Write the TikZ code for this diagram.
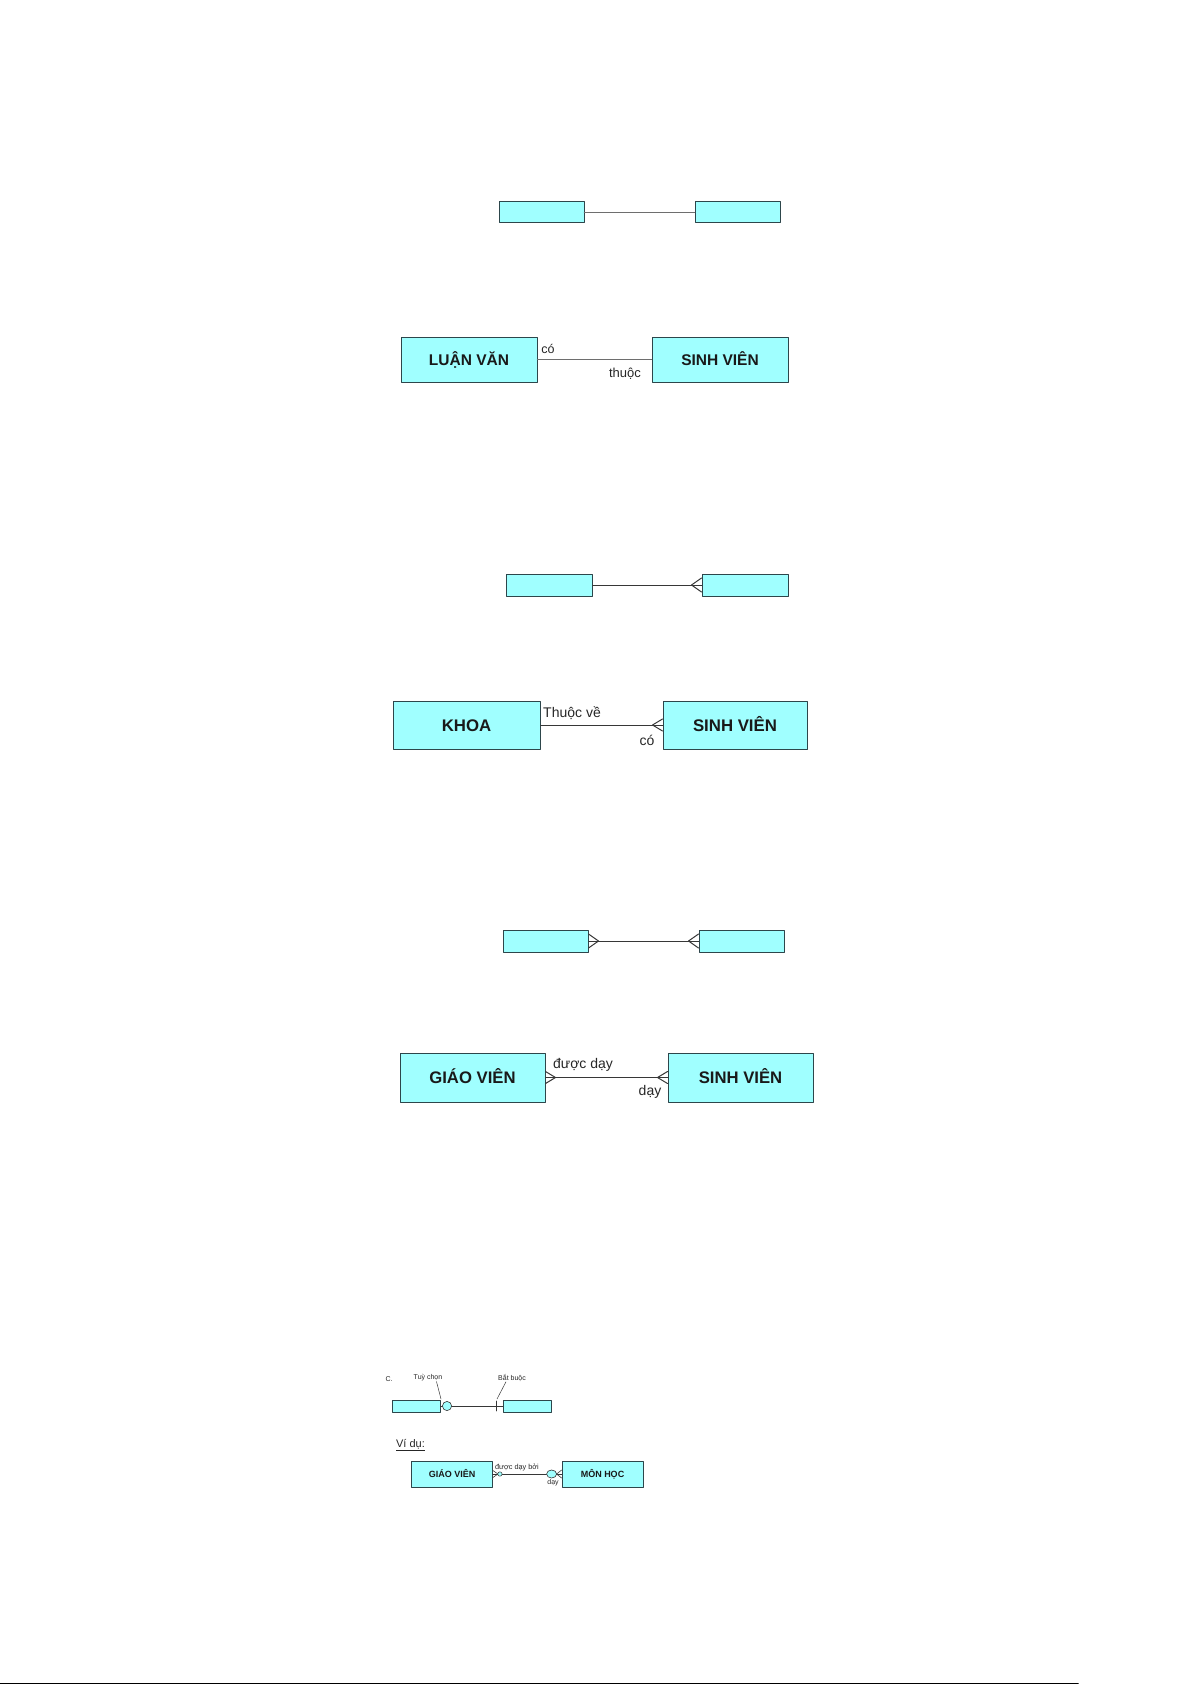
\documentclass[tikz,border=0pt]{standalone}
\usepackage{fontspec}
\setmainfont{Liberation Sans}
\definecolor{entfill}{RGB}{160,255,255}
\definecolor{entline}{RGB}{45,70,75}
\definecolor{relgrey}{RGB}{110,110,110}
\definecolor{reldark}{RGB}{55,55,55}
\newcommand\fsz[1]{\fontsize{#1}{#1}\selectfont}
\begin{document}
\begin{tikzpicture}[x=1pt,y=-1pt, line join=round, line cap=round,
	ent/.style={draw=entline, fill=entfill, line width=1pt, inner sep=0pt, text=black!90, font=\bfseries, text depth=0pt},
	rel/.style={draw=reldark, line width=1pt},
	lbl/.style={inner sep=0pt, text=black!85}]
	\useasboundingbox (0,0) rectangle (1192,1685);
	% 1 - 1
	\node[ent, minimum width=85pt, minimum height=21pt] (e1a) at (541.5,212.5) {};
	\node[ent, minimum width=85pt, minimum height=21pt] (e1b) at (737.5,212.5) {};
	\draw[rel, draw=relgrey, line width=1.6pt] (e1a.east)--(e1b.west);
	\node[ent, minimum width=136pt, minimum height=45pt, text height=11.2pt, font=\fsz{15.5}\bfseries] (lv) at (469,359.5) {LUẬN VĂN};
	\node[ent, minimum width=136pt, minimum height=45pt, text height=11.2pt, font=\fsz{15.5}\bfseries] (sv2) at (720,359.5) {SINH VIÊN};
	\draw[rel, draw=relgrey, line width=1.4pt] (lv.east)--(sv2.west);
	\node[lbl, font=\fsz{12.5}] (co2) at (548,349) {có};
	\node[lbl, font=\fsz{13}] (thuoc2) at (625,374) {thuộc};
	% 1 - n
	\node[ent, minimum width=86pt, minimum height=22pt] (e3a) at (549,585) {};
	\node[ent, minimum width=86pt, minimum height=22pt] (e3b) at (745,585) {};
	\draw[rel] (e3a.east)--(e3b.west);
	\draw[rel] ([yshift=7pt]e3b.west)--([xshift=-10pt]e3b.west)--([yshift=-7pt]e3b.west);
	\node[ent, minimum width=147pt, minimum height=48pt, text height=12.1pt, font=\fsz{16.8}\bfseries] (khoa) at (466.5,725) {KHOA};
	\node[ent, minimum width=144pt, minimum height=48pt, text height=12.1pt, font=\fsz{16.8}\bfseries] (sv4) at (735,725) {SINH VIÊN};
	\draw[rel] (khoa.east)--(sv4.west);
	\draw[rel] ([yshift=6pt]sv4.west)--([xshift=-10pt]sv4.west)--([yshift=-6pt]sv4.west);
	\node[lbl, font=\fsz{14}] (thuocve) at (572,713) {Thuộc về};
	\node[lbl, font=\fsz{14}] (co4) at (647,740) {có};
	% n - n
	\node[ent, minimum width=85pt, minimum height=22pt] (e5a) at (545.5,941) {};
	\node[ent, minimum width=85pt, minimum height=22pt] (e5b) at (741.5,941) {};
	\draw[rel] (e5a.east)--(e5b.west);
	\draw[rel] ([yshift=7pt]e5a.east)--([xshift=10pt]e5a.east)--([yshift=-7pt]e5a.east);
	\draw[rel] ([yshift=7pt]e5b.west)--([xshift=-10pt]e5b.west)--([yshift=-7pt]e5b.west);
	\node[ent, minimum width=145pt, minimum height=49pt, text height=12pt, font=\fsz{16.7}\bfseries] (gv6) at (472.5,1077.5) {GIÁO VIÊN};
	\node[ent, minimum width=145pt, minimum height=49pt, text height=12pt, font=\fsz{16.7}\bfseries] (sv6) at (740.5,1077.5) {SINH VIÊN};
	\draw[rel] (gv6.east)--(sv6.west);
	\draw[rel] ([yshift=6pt]gv6.east)--([xshift=10pt]gv6.east)--([yshift=-6pt]gv6.east);
	\draw[rel] ([yshift=6pt]sv6.west)--([xshift=-10pt]sv6.west)--([yshift=-6pt]sv6.west);
	\node[lbl, font=\fsz{14}] (duocday) at (583,1065) {được dạy};
	\node[lbl, font=\fsz{14}] (day6) at (650,1092) {dạy};
	% tuy chon / bat buoc
	\node[lbl, font=\fsz{7}] (c7) at (389,1379) {C.};
	\node[lbl, font=\fsz{7}] (tuy) at (428,1378) {Tuỳ chọn};
	\node[lbl, font=\fsz{7}] (batbuoc) at (512,1378) {Bắt buộc};
	\node[ent, line width=0.7pt, minimum width=48pt, minimum height=12pt] (c7a) at (416,1406) {};
	\node[ent, line width=0.7pt, minimum width=48pt, minimum height=12pt] (c7b) at (527,1406) {};
	\draw[rel, line width=0.7pt] (c7a.east)--(c7b.west);
	\draw[draw=reldark, fill=entfill, line width=0.6pt] (447,1406) circle (4.6);
	\draw[rel, line width=0.7pt] (496,1401)--(496,1411);
	\coordinate (tuyend) at (441,1399);
	\coordinate (batend) at (497,1399);
	\draw[rel, line width=0.5pt] ([xshift=-6pt]tuy.south east)--(tuyend);
	\draw[rel, line width=0.5pt] ([xshift=8pt]batbuoc.south west)--(batend);
	% vi du
	\node[lbl, font=\fsz{11}] (vidu) at (410.5,1445) {\underline{Ví dụ:}};
	\node[ent, line width=0.8pt, minimum width=81pt, minimum height=26pt, text height=6.5pt, font=\fsz{9}\bfseries] (gv8) at (452,1474) {GIÁO VIÊN};
	\node[ent, line width=0.8pt, minimum width=81pt, minimum height=26pt, text height=6.5pt, font=\fsz{9}\bfseries] (mh) at (602.5,1474) {MÔN HỌC};
	\draw[rel, line width=0.7pt] (gv8.east)--(mh.west);
	\draw[rel, line width=0.6pt] ([yshift=3.5pt]gv8.east)--([xshift=5pt]gv8.east)--([yshift=-3.5pt]gv8.east);
	\draw[draw=reldark, fill=entfill, line width=0.5pt] ([xshift=7pt]gv8.east) circle (2.2);
	\draw[draw=reldark, fill=entfill, line width=0.6pt] ([xshift=-10pt]mh.west) ellipse (5 and 4);
	\draw[rel, line width=0.6pt] ([yshift=4pt]mh.west)--([xshift=-5pt]mh.west)--([yshift=-4pt]mh.west);
	\node[lbl, font=\fsz{7.3}] (duocdayboi) at (517,1467) {được dạy bởi};
	\node[lbl, font=\fsz{7}] (day8) at (553,1483) {dạy};
	% bottom rule
	\coordinate (rulea) at (0,1683.5);
	\coordinate (ruleb) at (1078,1683.5);
	\draw[line width=1.6pt] (rulea)--(ruleb);
\end{tikzpicture}
\end{document}
